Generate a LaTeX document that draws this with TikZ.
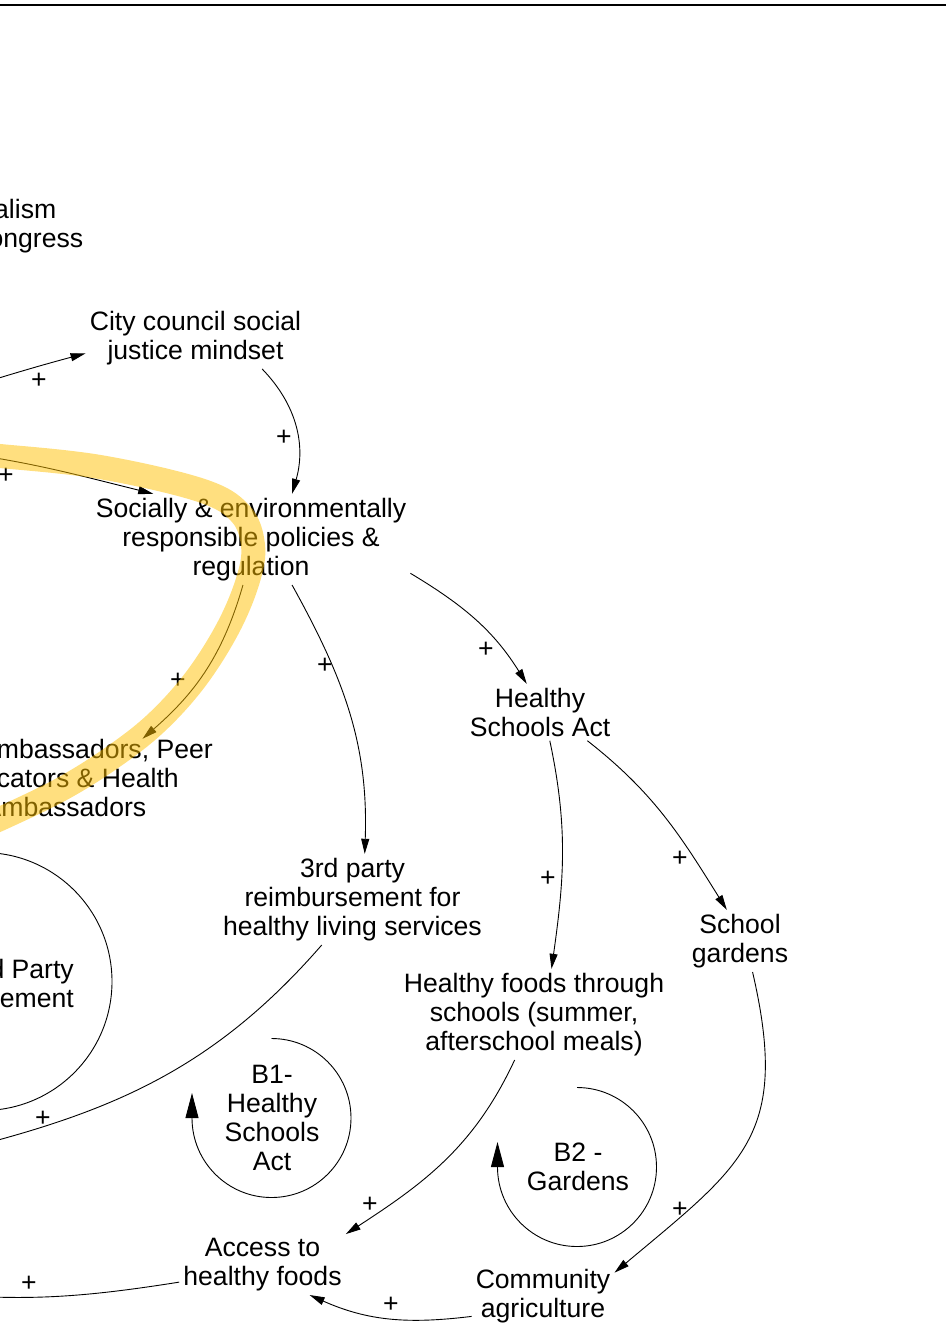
\documentclass[tikz,border=0pt]{standalone}
\usepackage{fontspec}
\setmainfont{Liberation Sans}
\usepackage{xcolor}
\definecolor{cInk}{HTML}{000000}
\definecolor{cHigh}{HTML}{FFC000}
\usetikzlibrary{arrows.meta}
\newcommand\cldfont{\fontsize{26.6pt}{29pt}\selectfont}
\tikzset{
  node-var/.style={align=center,inner sep=4pt,font=\cldfont,anchor=north},
  node-cut/.style={inner sep=0pt,font=\cldfont},
  node-loop/.style={align=center,inner sep=0pt,font=\cldfont,anchor=north},
  node-sign/.style={inner sep=0pt,font=\cldfont},
  arrow/.style={-{Triangle[length=15pt,width=8pt]},line width=0.9pt,draw=cInk},
  arrow-loop/.style={-{Triangle[length=25pt,width=13pt]},line width=0.9pt,draw=cInk},
  loop-ring/.style={line width=0.9pt,draw=cInk},
  highlight/.style={line width=24pt,draw=cHigh,draw opacity=0.5},
}

\begin{document}
\begin{tikzpicture}[x=1pt,y=1pt]
  \useasboundingbox (0,0) rectangle (946,-1331);
  \clip (0,0) rectangle (946,-1331);
  \draw[line width=2pt] (0,-5) -- (946,-5);

  % variables
  \node[node-cut,align=left,anchor=north west] (nat) at (-6,-198.8) {alism\\\hspace*{-5.6pt}ongress};
  \node[node-var] (cc) at (195.5,-306.8) {City council social\\justice mindset};
  \node[node-var] (soc) at (251,-493.8) {Socially \& environmentally\\responsible policies \&\\regulation};
  \node[node-cut,align=left,anchor=north west] (amb) at (-3.3,-738.8) {mbassadors, Peer\\cators \& Health\\\hspace*{-13.3pt}Ambassadors};
  \node[node-var] (hsa) at (540,-683.8) {Healthy\\Schools Act};
  \node[node-var] (party) at (352.5,-853.8) {3rd party\\reimbursement for\\healthy living services};
  \node[node-var] (gard) at (740,-909.8) {School\\gardens};
  \node[node-var] (hfs) at (534,-968.8) {Healthy foods through\\schools (summer,\\afterschool meals)};
  \node[node-cut,align=right,anchor=north east] (rp3) at (74,-958.8) {d Party\\sement};
  \node[node-var] (acc) at (262.5,-1233.8) {Access to\\healthy foods};
  \node[node-var] (comm) at (543,-1264.8) {Community\\agriculture};

  % loop markers
  \coordinate (rp3-c) at (-17,-981.5);
  \coordinate (b1-c) at (271.5,-1118);
  \coordinate (b2-c) at (577,-1167);
  \node[node-loop] (b1) at (272,-1064.8) {B1-\\Healthy\\Schools\\Act};
  \node[node-loop] (b2) at (578,-1142.8) {B2 -\\Gardens};
  \draw[loop-ring] (rp3-c) circle[radius=129];
  \draw[arrow-loop] (b1-c) ++(90:79.5) arc[start angle=90,end angle=-180,radius=79.5] -- ++(0,25);
  \draw[arrow-loop] (b2-c) ++(90:79.5) arc[start angle=90,end angle=-180,radius=79.5] -- ++(0,25);

  % links
  \coordinate (cc-from) at (-60,-396);
  \coordinate (soc-from) at (-60,-450);
  \coordinate (party-to) at (-60,-1155);
  \coordinate (acc-to) at (-60,-1294);
  \draw[arrow] (cc-from) to[out=17,in=195] (cc.188);
  \draw[arrow] (cc.-25) to[out=-46,in=74] (soc.48);
  \draw[arrow] (soc-from) to[out=-7,in=166] (soc.155);
  \draw[arrow] (soc.-100) to[out=-106,in=41] (amb.46);
  \draw[arrow] (soc.-48) to[out=-61,in=88] (party.75);
  \draw[arrow] (soc.-12) to[out=-31,in=122] (hsa.115);
  \draw[arrow] (hsa.-71) to[out=-78,in=82] (hfs.69);
  \draw[arrow] (hsa.-31) to[out=-38,in=122] (gard.113);
  \draw[arrow] (gard.-68) to[out=-77,in=40,looseness=1.3] (comm.18);
  \draw[arrow] (hfs.-113) to[out=-115,in=33] (acc.20);
  \draw[arrow] (comm.-164) to[out=-173,in=-24] (acc.-33);
  \draw[arrow] (acc.-168) to[out=-171,in=-4] (acc-to);
  \draw[arrow] (party.-124) to[out=-131,in=14] (party-to);

  % polarities
  \node[node-sign] (s1) at (39,-381) {+};
  \node[node-sign] (s2) at (284,-438) {+};
  \node[node-sign] (s3) at (6,-476) {+};
  \node[node-sign] (s4) at (178,-681) {+};
  \node[node-sign] (s5) at (325,-666) {+};
  \node[node-sign] (s6) at (486,-650) {+};
  \node[node-sign] (s7) at (548,-879) {+};
  \node[node-sign] (s8) at (680,-859) {+};
  \node[node-sign] (s9) at (680,-1210) {+};
  \node[node-sign] (s10) at (370,-1205) {+};
  \node[node-sign] (s11) at (391,-1305) {+};
  \node[node-sign] (s12) at (29,-1284) {+};
  \node[node-sign] (s13) at (43,-1119) {+};

  % highlighted loop
  \draw[highlight] plot[smooth,tension=0.6] coordinates {(-20,-455) (0,-456) (100,-467) (200,-490) (240,-513) (253,-545) (248,-580) (228,-628) (195,-680) (155,-724) (110,-759) (60,-790) (0,-819) (-20,-827)};
\end{tikzpicture}
\end{document}
